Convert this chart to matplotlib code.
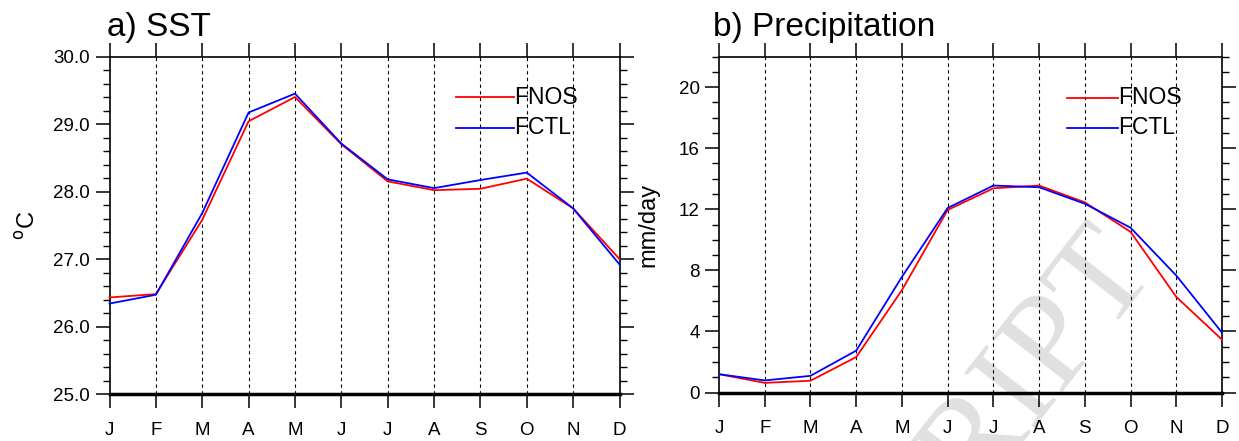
import numpy as np
import matplotlib
matplotlib.use("Agg")
import matplotlib.pyplot as plt
from matplotlib.ticker import MultipleLocator, FormatStrFormatter


# =============================
# DATA
# =============================

months = ["J", "F", "M", "A", "M", "J", "J", "A", "S", "O", "N", "D"]

sst_fnos = [26.43, 26.48, 27.58, 29.04, 29.40, 28.70, 28.15, 28.02, 28.04, 28.19, 27.75, 27.00]
sst_fctl = [26.34, 26.47, 27.68, 29.17, 29.45, 28.71, 28.18, 28.05, 28.17, 28.28, 27.75, 26.92]

pr_fnos = [1.20, 0.63, 0.77, 2.32, 6.70, 11.95, 13.37, 13.55, 12.45, 10.52, 6.26, 3.46]
pr_fctl = [1.20, 0.79, 1.09, 2.74, 7.57, 12.08, 13.55, 13.44, 12.36, 10.79, 7.66, 3.92]


# =============================
# SETTINGS
# =============================

plt.rcParams["font.family"] = ["Liberation Sans", "DejaVu Sans"]

W, H = 1239, 441
fig = plt.figure(figsize=(W / 100, H / 100), dpi=100)


def box(x0, y0, x1, y1):
    # pixel box (top-left origin) -> figure fraction
    return [x0 / W, 1 - y1 / H, (x1 - x0) / W, (y1 - y0) / H]


def style_panel(ax, title, title_x):
    x = np.arange(len(months))
    ax.set_xlim(0, 11)
    ax.set_xticks(x)
    ax.set_xticklabels(months)
    for xi in x[1:-1]:
        ax.axvline(xi, color="black", lw=0.8, ls=(0, (3, 3)), zorder=1)
    ax.tick_params(axis="both", which="major", direction="out", length=10,
                   width=1.1, labelsize=13.5, top=True, right=True,
                   labeltop=False, labelright=False)
    ax.tick_params(axis="both", which="minor", direction="out", length=5,
                   width=1.0, top=False, right=True)
    ax.tick_params(axis="x", which="major", pad=10)
    ax.tick_params(axis="y", which="major", pad=4)
    for s in ax.spines.values():
        s.set_linewidth(1.2)
    ax.spines["bottom"].set_linewidth(2.5)
    ax.set_facecolor("none")
    fig.text(title_x / W, 1 - 36 / H, title, fontsize=24, ha="left", va="baseline")


def legend(ax, x0, x1, ys):
    # NCL style legend: short line and label right after it
    for (lab, col), y in zip([("FNOS", "red"), ("FCTL", "blue")], ys):
        fig.add_artist(plt.Line2D([x0 / W, x1 / W], [1 - y / H, 1 - y / H],
                                  color=col, lw=1.3, transform=fig.transFigure))
        fig.text(x1 / W, 1 - y / H, lab, fontsize=16.5, ha="left", va="center")


# =============================
# PANEL A - SST
# =============================

ax1 = fig.add_axes(box(109.5, 56.5, 619.5, 394))
x = np.arange(len(months))
ax1.plot(x, sst_fnos, color="red", lw=1.3, zorder=3, clip_on=False)
ax1.plot(x, sst_fctl, color="blue", lw=1.3, zorder=3, clip_on=False)
ax1.set_ylim(25, 30)
ax1.yaxis.set_major_locator(MultipleLocator(1.0))
ax1.yaxis.set_minor_locator(MultipleLocator(0.2))
ax1.yaxis.set_major_formatter(FormatStrFormatter("%.1f"))
ax1.set_ylabel(r"$^{\mathrm{o}}$C", fontsize=17, labelpad=10)
style_panel(ax1, "a) SST", 107)
legend(ax1, 456, 514, [97, 128])


# =============================
# PANEL B - PRECIPITATION
# =============================

ax2 = fig.add_axes(box(719, 56.5, 1222, 392.5))
ax2.plot(x, pr_fnos, color="red", lw=1.3, zorder=3, clip_on=False)
ax2.plot(x, pr_fctl, color="blue", lw=1.3, zorder=3, clip_on=False)
ax2.set_ylim(0, 22)
ax2.yaxis.set_major_locator(MultipleLocator(4))
ax2.yaxis.set_minor_locator(MultipleLocator(1))
ax2.yaxis.set_major_formatter(FormatStrFormatter("%d"))
ax2.set_ylabel("mm/day", fontsize=17, labelpad=14)
style_panel(ax2, "b) Precipitation", 713)
legend(ax2, 1067, 1118, [98, 128])

# journal watermark, partly visible in the reference
fig.text(1158 / W, 1 - 270 / H, "ACCEPTED MANUSCRIPT", fontsize=98,
         family="Liberation Serif", color="#e0e0e0", rotation=52,
         rotation_mode="anchor", ha="right", va="baseline", zorder=-5)

fig.savefig("out.png", dpi=100)
